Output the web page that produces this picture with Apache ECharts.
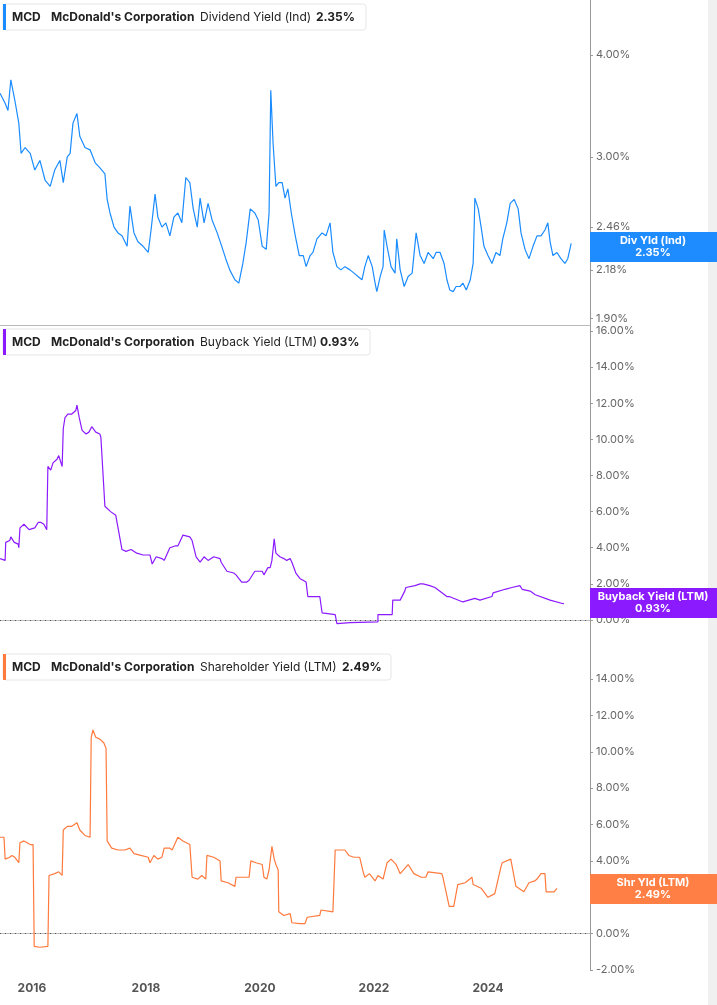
<!DOCTYPE html>
<html><head><meta charset="utf-8">
<script src="https://cdn.jsdelivr.net/npm/echarts@6/dist/echarts.min.js"></script>
<style>html,body{margin:0;padding:0;background:#fff}#c{width:717px;height:1005px}</style>
</head><body><div id="c"></div>
<script>
const divDates=[2015.44,2015.53,2015.58,2015.63,2015.70,2015.77,2015.81,2015.88,2015.97,2016.05,2016.14,2016.23,2016.32,2016.40,2016.49,2016.55,2016.62,2016.67,2016.72,2016.79,2016.84,2016.93,2017.02,2017.11,2017.19,2017.28,2017.32,2017.37,2017.44,2017.51,2017.58,2017.67,2017.72,2017.79,2017.86,2017.95,2018.04,2018.09,2018.16,2018.21,2018.28,2018.35,2018.42,2018.49,2018.56,2018.63,2018.70,2018.77,2018.83,2018.90,2018.95,2019.02,2019.09,2019.16,2019.25,2019.33,2019.40,2019.47,2019.56,2019.63,2019.70,2019.76,2019.83,2019.91,2019.97,2020.04,2020.11,2020.16,2020.19,2020.23,2020.28,2020.33,2020.39,2020.44,2020.49,2020.55,2020.62,2020.69,2020.76,2020.81,2020.88,2020.93,2021.00,2021.09,2021.16,2021.23,2021.28,2021.35,2021.42,2021.49,2021.58,2021.65,2021.72,2021.79,2021.84,2021.90,2021.97,2022.02,2022.05,2022.11,2022.16,2022.18,2022.23,2022.30,2022.37,2022.40,2022.46,2022.53,2022.60,2022.67,2022.74,2022.81,2022.88,2022.95,2023.04,2023.09,2023.16,2023.23,2023.28,2023.33,2023.39,2023.44,2023.51,2023.56,2023.62,2023.69,2023.74,2023.76,2023.77,2023.83,2023.88,2023.93,2024.00,2024.07,2024.14,2024.21,2024.26,2024.33,2024.39,2024.46,2024.53,2024.58,2024.65,2024.72,2024.79,2024.86,2024.93,2025.00,2025.05,2025.09,2025.14,2025.21,2025.28,2025.35,2025.40,2025.46];
const divYield=[3.59,3.49,3.42,3.73,3.52,3.30,3.03,3.08,3.03,2.89,2.97,2.81,2.76,2.89,2.97,2.79,3.00,3.03,3.30,3.39,3.18,3.08,3.06,2.95,2.91,2.86,2.66,2.56,2.46,2.42,2.40,2.33,2.61,2.42,2.36,2.33,2.29,2.44,2.70,2.53,2.46,2.49,2.40,2.53,2.56,2.49,2.83,2.79,2.59,2.46,2.67,2.49,2.63,2.51,2.42,2.33,2.25,2.18,2.12,2.10,2.22,2.36,2.59,2.56,2.51,2.33,2.31,2.56,3.62,3.12,2.76,2.79,2.79,2.67,2.74,2.56,2.40,2.27,2.27,2.20,2.27,2.29,2.38,2.42,2.40,2.49,2.29,2.20,2.18,2.20,2.18,2.16,2.14,2.12,2.20,2.27,2.20,2.10,2.05,2.14,2.20,2.44,2.33,2.20,2.16,2.38,2.18,2.08,2.14,2.16,2.42,2.27,2.22,2.29,2.25,2.29,2.29,2.22,2.12,2.06,2.05,2.08,2.08,2.10,2.06,2.12,2.22,2.49,2.67,2.59,2.46,2.33,2.27,2.22,2.29,2.27,2.38,2.49,2.63,2.66,2.59,2.42,2.31,2.25,2.33,2.40,2.40,2.44,2.49,2.36,2.27,2.29,2.25,2.22,2.25,2.35];

const bbDates=[2015.44,2015.53,2015.54,2015.61,2015.63,2015.69,2015.76,2015.77,2015.79,2015.86,2015.95,2016.05,2016.11,2016.16,2016.21,2016.26,2016.28,2016.33,2016.37,2016.44,2016.47,2016.53,2016.55,2016.58,2016.63,2016.70,2016.77,2016.79,2016.83,2016.88,2016.95,2017.00,2017.05,2017.12,2017.19,2017.21,2017.28,2017.38,2017.47,2017.49,2017.58,2017.65,2017.74,2017.84,2017.95,2018.07,2018.11,2018.18,2018.28,2018.32,2018.42,2018.51,2018.56,2018.65,2018.77,2018.81,2018.88,2018.95,2019.02,2019.09,2019.19,2019.30,2019.32,2019.42,2019.54,2019.58,2019.68,2019.77,2019.81,2019.91,2020.04,2020.07,2020.14,2020.18,2020.21,2020.25,2020.28,2020.35,2020.42,2020.47,2020.53,2020.56,2020.63,2020.70,2020.70,2020.81,2020.84,2021.05,2021.09,2021.32,2021.35,2021.58,2022.07,2022.07,2022.32,2022.33,2022.46,2022.54,2022.56,2022.72,2022.81,2022.86,2022.98,2023.07,2023.28,2023.32,2023.56,2023.58,2023.77,2023.86,2024.07,2024.09,2024.30,2024.42,2024.56,2024.60,2024.74,2024.83,2024.84,2025.09,2025.11,2025.32,2025.33,2025.46];
const buybackYield=[3.4,3.3,4.3,4.4,4.6,4.3,4.2,4.0,5.1,5.3,5.0,5.1,5.4,5.4,5.3,5.0,8.5,8.3,8.7,8.9,9.1,8.5,10.6,11.2,11.4,11.4,11.6,11.9,11.2,10.5,10.3,10.4,10.7,10.4,10.3,10.1,6.3,6.0,5.8,5.8,3.9,3.8,3.9,3.7,3.6,3.6,3.1,3.5,3.4,3.3,4.0,4.1,4.1,4.7,4.6,4.4,3.5,3.2,3.5,3.3,3.5,3.4,3.2,2.7,2.6,2.5,2.1,2.1,2.2,2.7,2.7,2.5,2.9,2.9,3.3,4.5,3.7,3.5,3.4,3.3,3.4,3.2,2.6,2.3,2.2,2.1,1.3,1.3,0.4,0.3,-0.2,-0.15,-0.1,0.3,0.3,1.1,1.1,1.6,1.8,1.9,2.0,2.0,1.9,1.8,1.3,1.3,1.0,1.1,1.2,1.1,1.3,1.5,1.7,1.8,1.9,1.7,1.6,1.4,1.4,1.1,1.1,0.9,0.93];

const shDates=[2015.44,2015.51,2015.53,2015.61,2015.65,2015.70,2015.77,2015.79,2015.86,2015.97,2016.02,2016.04,2016.14,2016.28,2016.30,2016.40,2016.47,2016.53,2016.55,2016.62,2016.70,2016.79,2016.84,2016.93,2017.02,2017.04,2017.07,2017.12,2017.19,2017.26,2017.30,2017.32,2017.40,2017.51,2017.63,2017.72,2017.79,2017.91,2018.04,2018.07,2018.14,2018.21,2018.28,2018.32,2018.42,2018.46,2018.56,2018.65,2018.77,2018.81,2018.91,2018.98,2019.05,2019.07,2019.19,2019.30,2019.32,2019.44,2019.56,2019.58,2019.70,2019.81,2019.84,2019.93,2020.04,2020.07,2020.12,2020.16,2020.21,2020.25,2020.28,2020.32,2020.33,2020.42,2020.53,2020.56,2020.70,2020.79,2020.83,2021.05,2021.07,2021.28,2021.32,2021.49,2021.56,2021.65,2021.75,2021.81,2021.84,2021.92,2022.02,2022.07,2022.16,2022.23,2022.30,2022.39,2022.46,2022.60,2022.70,2022.83,2022.91,2022.95,2023.19,2023.21,2023.32,2023.40,2023.47,2023.60,2023.72,2023.74,2023.88,2023.91,2024.00,2024.02,2024.12,2024.23,2024.25,2024.40,2024.49,2024.63,2024.72,2024.82,2024.86,2024.93,2025.00,2025.02,2025.16,2025.21,2025.27,2025.33,2025.40,2025.46];
const shYield=[5.3,5.3,4.1,4.2,4.3,4.2,3.9,5.0,5.1,4.9,4.9,-0.7,-0.75,-0.7,3.2,3.3,3.4,3.2,5.7,5.9,5.9,6.1,5.7,5.4,5.3,10.8,11.2,10.8,10.7,10.5,10.2,5.1,4.7,4.6,4.6,4.7,4.4,4.3,4.2,3.9,4.3,4.1,4.2,4.7,4.7,4.6,5.3,5.1,4.9,3.1,3.0,3.2,3.0,4.3,4.2,4.0,2.9,2.8,2.6,3.1,3.1,3.1,4.0,3.9,3.8,3.1,3.0,3.5,4.8,4.1,3.8,3.5,1.2,1.0,1.1,0.6,0.55,0.55,0.9,1.0,1.3,1.2,4.6,4.6,4.3,4.2,4.2,3.4,3.1,3.3,2.9,3.2,3.0,3.9,4.1,3.8,3.3,3.8,3.3,3.1,3.1,3.4,3.3,3.1,1.5,1.5,2.7,2.8,3.1,2.7,2.5,2.4,2.0,2.1,2.2,3.7,3.9,4.1,2.6,2.3,2.8,2.9,3.0,3.3,3.3,2.3,2.3,2.49];

const xTicks=[2016,2018,2020,2022,2024];
const divTicks=[1.90,2.18,2.46,3.00,4.00];
const bbTicks=[0,2,4,6,8,10,12,14,16];
const shTicks=[-2,0,2,4,6,8,10,12,14];

const chart=echarts.init(document.getElementById('c'));
const F='Inter, "Noto Sans", sans-serif';
const X0=2015.44,X1=2025.79;
const grids=[{left:0,right:127,top:0,height:325},{left:0,right:127,top:325,height:325},{left:0,right:127,top:650,height:320}];
function xa(i,show){return {type:'value',gridIndex:i,min:X0,max:X1,axisLine:{show:true,lineStyle:{color:'#bbb'}},axisTick:{show:false},splitLine:{show:false},
 axisLabel:{show:show,customValues:xTicks,formatter:v=>String(Math.round(v)),color:'#555',fontWeight:'bold',fontSize:12,fontFamily:F,margin:12}};}
function ya(i,min,max,ticks,fmt){return {type:'value',gridIndex:i,position:'right',min:min,max:max,splitLine:{show:false},
 axisLine:{show:true,lineStyle:{color:'#999'}},axisTick:{show:true,customValues:ticks,length:3,lineStyle:{color:'#999'}},
 axisLabel:{customValues:ticks,formatter:fmt,color:'#666',fontSize:11,fontFamily:F,margin:6}};}
const lnTicks=divTicks.map(Math.log);
const zeroLine={silent:true,symbol:'none',label:{show:false},lineStyle:{color:'#555',type:[1,4],width:1},data:[{yAxis:0}]};
function header(y,w,color,label,val,valX){return [
 {type:'rect',shape:{x:3,y:y,width:w,height:26,r:3},style:{fill:'#fff',stroke:'#e6e6e6',lineWidth:1},z:100},
 {type:'rect',shape:{x:3,y:y,width:3,height:26},style:{fill:color},z:101},
 {type:'text',x:12,y:y+7,style:{text:'MCD',font:'bold 12px '+F,fill:'#222'},z:101},
 {type:'text',x:51,y:y+7,style:{text:"McDonald's Corporation",font:'bold 12px '+F,fill:'#222'},z:101},
 {type:'text',x:200,y:y+7,style:{text:label,font:'12px '+F,fill:'#222'},z:102},
 {type:'text',x:valX,y:y+7,style:{text:val,font:'bold 12px '+F,fill:'#222'},z:102}];}
function tag(y,color,t1,t2){return [
 {type:'rect',shape:{x:590,y:y,width:127,height:30},style:{fill:color},z:100},
 {type:'text',x:653,y:y+3,style:{text:t1+'\n'+t2,align:'center',font:'bold 11px '+F,fill:'#fff',lineHeight:12},z:101}];}
chart.setOption({
 animation:false,
 grid:grids,
 xAxis:[xa(0,false),xa(1,false),xa(2,true)],
 yAxis:[ya(0,0.6236,1.5417,lnTicks,v=>Math.exp(v).toFixed(2)+'%'),
        ya(1,-1.66,16.33,bbTicks,v=>v.toFixed(2)+'%'),
        ya(2,-2.0,15.6,shTicks,v=>v.toFixed(2)+'%')],
 series:[
  {type:'line',xAxisIndex:0,yAxisIndex:0,showSymbol:false,lineStyle:{color:'#1a8cff',width:1.2},data:divDates.map((d,i)=>[d,Math.log(divYield[i])])},
  {type:'line',xAxisIndex:1,yAxisIndex:1,showSymbol:false,lineStyle:{color:'#8c1aff',width:1.2},data:bbDates.map((d,i)=>[d,buybackYield[i]]),markLine:zeroLine},
  {type:'line',xAxisIndex:2,yAxisIndex:2,showSymbol:false,lineStyle:{color:'#ff7a3d',width:1.2},data:shDates.map((d,i)=>[d,shYield[i]]),markLine:zeroLine}
 ],
 graphic:[].concat(
  header(4,363,'#1a8cff','Dividend Yield (Ind)','2.35%',316),
  header(329,367,'#8c1aff','Buyback Yield (LTM)','0.93%',320),
  header(654,388,'#ff7a3d','Shareholder Yield (LTM)','2.49%',342),
  tag(232,'#1e8cff','Div Yld (Ind)','2.35%'),
  tag(588,'#8c1aff','Buyback Yield (LTM)','0.93%'),
  tag(874,'#ff7f45','Shr Yld (LTM)','2.49%'),
  [{type:'rect',shape:{x:708,y:0,width:9,height:1005},style:{fill:'#f0f0f0'},z:1}]
 )
});
</script></body></html>
